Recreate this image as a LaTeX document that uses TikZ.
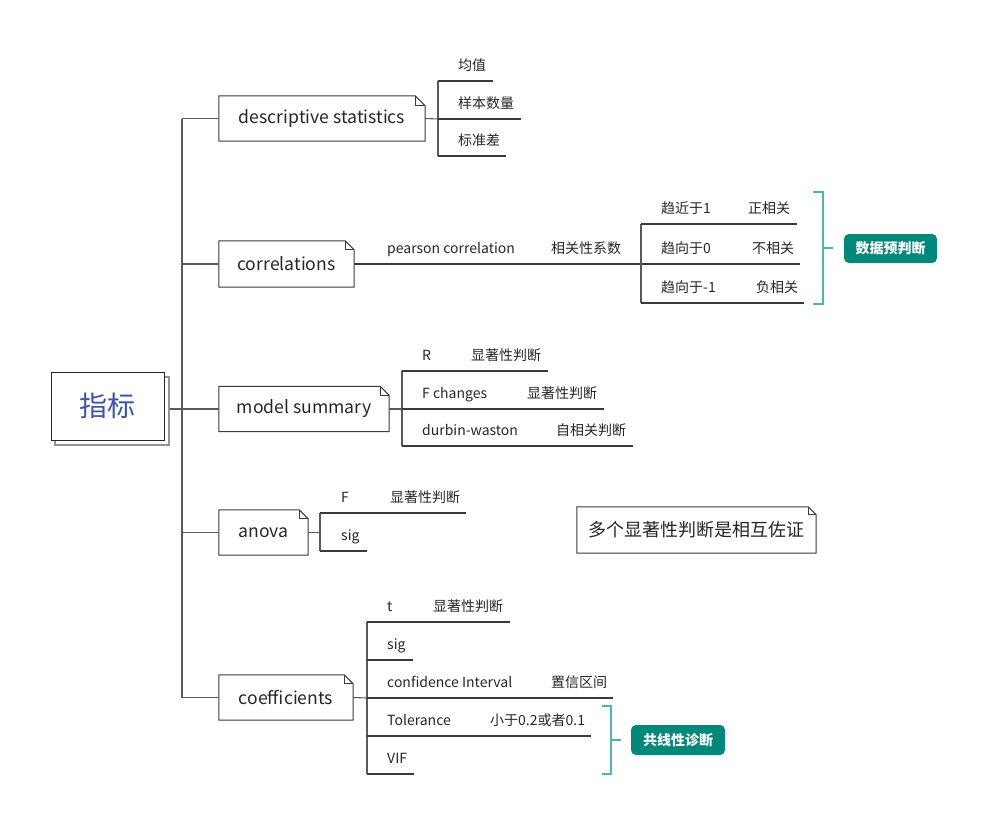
\documentclass[tikz,border=0pt]{standalone}
\usepackage{fontspec}
\setmainfont{Noto Sans CJK SC}
\usetikzlibrary{calc}
\definecolor{ln}{HTML}{3A3A3A}
\definecolor{vln}{HTML}{5A5A5A}
\definecolor{txt}{HTML}{262626}
\definecolor{rootblue}{HTML}{3F51B5}
\definecolor{tealL}{HTML}{4DB6AC}
\definecolor{tealD}{HTML}{00897B}
\newcommand\mmfold[2]{%
  \draw[boxline] (#1.north west) -- ($(#1.north east)+(-#2,0)$) -- ($(#1.north east)+(0,#2)$) -- (#1.south east) -- (#1.south west) -- cycle;
  \draw[boxline] ($(#1.north east)+(-#2,0)$) -- ($(#1.north east)+(-#2,#2)$) -- ($(#1.north east)+(0,#2)$);}
\begin{document}
\begin{tikzpicture}[x=1pt,y=-1pt,
  boxline/.style={draw=ln, line width=1pt},
  lbox/.style={inner sep=0, text=txt, font=\fontsize{17.6}{20}\selectfont},
  ctext/.style={anchor=base west, inner sep=0, text=txt, font=\fontsize{14}{16}\selectfont},
  bline/.style={draw=vln, line width=1.1pt},
  uline/.style={draw=ln, line width=1.2pt},
  tealbr/.style={draw=tealL, line width=1.2pt},
  tag/.style={fill=tealD, rounded corners=5pt, text=white, inner sep=0, font=\bfseries\fontsize{14}{16}\selectfont}]
\useasboundingbox (0,0) rectangle (988,825);

% root
\node[draw=gray!85, line width=1.6pt, fill=white, minimum width=114pt, minimum height=68pt, inner sep=0] (rootsh) at (112,411) {};
\node[draw=txt, line width=1pt, fill=white, minimum width=113pt, minimum height=68pt, inner sep=0, text=rootblue, font=\fontsize{28}{32}\selectfont] (root) at (107.5,406) {指标};

% level-1 boxes
\node[lbox, minimum width=206pt, minimum height=45pt] (desc) at (322,118.5) {descriptive statistics};
\node[lbox, minimum width=135pt, minimum height=46pt] (corr) at (286.5,264) {correlations};
\node[lbox, minimum width=170pt, minimum height=45pt] (msum) at (304,409) {model summary};
\node[lbox, minimum width=89pt, minimum height=45pt] (anova) at (263.5,532.5) {anova};
\node[lbox, minimum width=134pt, minimum height=45pt] (coef) at (286,697.5) {coefficients};
\mmfold{desc}{10}
\mmfold{corr}{9}
\mmfold{msum}{9}
\mmfold{anova}{9}
\mmfold{coef}{9}

% trunk
\coordinate (t1) at (182,118.5);
\coordinate (t2) at (182,264);
\coordinate (t3) at (182,409);
\coordinate (t4) at (182,532.5);
\coordinate (t5) at (182,697.5);
\draw[bline] (t1) -- (t5);
\draw[bline] (rootsh.east |- t3) -- (t3) -- (msum.west);
\draw[bline] (t1) -- (desc.west);
\draw[bline] (t2) -- (corr.west);
\draw[bline] (t4) -- (anova.west);
\draw[bline] (t5) -- (coef.west);

% descriptive statistics
\coordinate (dv1) at (438,81);
\coordinate (dv2) at (438,119);
\coordinate (dv3) at (438,156);
\draw[bline] (desc.east) -- (dv2);
\draw[bline] (dv1) -- (dv3);
\draw[uline] (dv1) -- ++(55,0);
\draw[uline] (dv2) -- ++(83,0);
\draw[uline] (dv3) -- ++(68,0);
\node[ctext] (d1) at (458,70) {均值};
\node[ctext] (d2) at (458,108) {样本数量};
\node[ctext] (d3) at (458,145) {标准差};

% correlations
\coordinate (cv1) at (641,224);
\coordinate (cv2) at (641,264);
\coordinate (cv3) at (641,303);
\draw[uline] (corr.east) -- (cv2) -- ++(159,0);
\draw[bline] (cv1) -- (cv3);
\draw[uline] (cv1) -- ++(156,0);
\draw[uline] (cv3) -- ++(163,0);
\node[ctext] (c0a) at (387,253) {pearson correlation};
\node[ctext] (c0b) at (551,253) {相关性系数};
\node[ctext] (c1a) at (661,213) {趋近于1};
\node[ctext] (c1b) at (748,213) {正相关};
\node[ctext] (c2a) at (661,253) {趋向于0};
\node[ctext] (c2b) at (752,253) {不相关};
\node[ctext] (c3a) at (661,292) {趋向于-1};
\node[ctext] (c3b) at (756,292) {负相关};
\coordinate (b1t) at (823,192);
\coordinate (b1b) at (823,304);
\coordinate (b1m) at (823,248);
\draw[tealbr] ($(b1t)+(-10,0)$) -- (b1t) -- (b1b) -- ++(-10,0);
\draw[tealbr] (b1m) -- ++(10,0);
\node[tag, minimum width=93pt, minimum height=29pt] (tag1) at (890.5,248.5) {数据预判断};

% model summary
\coordinate (mv1) at (402,371);
\coordinate (mv2) at (402,409);
\coordinate (mv3) at (402,446);
\draw[bline] (msum.east) -- (mv2);
\draw[bline] (mv1) -- (mv3);
\draw[uline] (mv1) -- ++(146,0);
\draw[uline] (mv2) -- ++(202,0);
\draw[uline] (mv3) -- ++(231,0);
\node[ctext] (m1a) at (422,360) {R};
\node[ctext] (m1b) at (471,360) {显著性判断};
\node[ctext] (m2a) at (422,398) {F changes};
\node[ctext] (m2b) at (527,398) {显著性判断};
\node[ctext] (m3a) at (422,435) {durbin-waston};
\node[ctext] (m3b) at (556,435) {自相关判断};

% anova
\coordinate (av1) at (320,513);
\coordinate (av2) at (320,532.5);
\coordinate (av3) at (320,551);
\draw[bline] (anova.east) -- (av2);
\draw[bline] (av1) -- (av3);
\draw[uline] (av1) -- ++(146,0);
\draw[uline] (av3) -- ++(47,0);
\node[ctext] (a1a) at (341,502) {F};
\node[ctext] (a1b) at (390,502) {显著性判断};
\node[ctext] (a2a) at (341,540) {sig};

% note
\node[lbox, minimum width=239pt, minimum height=46pt, font=\fontsize{18}{22}\selectfont] (note) at (696.5,530) {多个显著性判断是相互佐证};
\mmfold{note}{8}

% coefficients
\coordinate (kv1) at (367,622);
\coordinate (kv2) at (367,660);
\coordinate (kv3) at (367,698);
\coordinate (kv4) at (367,736);
\coordinate (kv5) at (367,774);
\draw[bline] (coef.east) -- (kv3);
\draw[bline] (kv1) -- (kv5);
\draw[uline] (kv1) -- ++(143,0);
\draw[uline] (kv2) -- ++(46,0);
\draw[uline] (kv3) -- ++(246,0);
\draw[uline] (kv4) -- ++(224,0);
\draw[uline] (kv5) -- ++(47,0);
\node[ctext] (k1a) at (387,611) {t};
\node[ctext] (k1b) at (433,611) {显著性判断};
\node[ctext] (k2a) at (387,649) {sig};
\node[ctext] (k3a) at (387,687) {confidence Interval};
\node[ctext] (k3b) at (551,687) {置信区间};
\node[ctext] (k4a) at (387,725) {Tolerance};
\node[ctext] (k4b) at (490,725) {小于0.2或者0.1};
\node[ctext] (k5a) at (387,763) {VIF};
\coordinate (b2t) at (611,706);
\coordinate (b2b) at (611,774);
\coordinate (b2m) at (611,740);
\draw[tealbr] ($(b2t)+(-9,0)$) -- (b2t) -- (b2b) -- ++(-9,0);
\draw[tealbr] (b2m) -- ++(10,0);
\node[tag, minimum width=94pt, minimum height=30pt] (tag2) at (678,740) {共线性诊断};
\end{tikzpicture}
\end{document}
